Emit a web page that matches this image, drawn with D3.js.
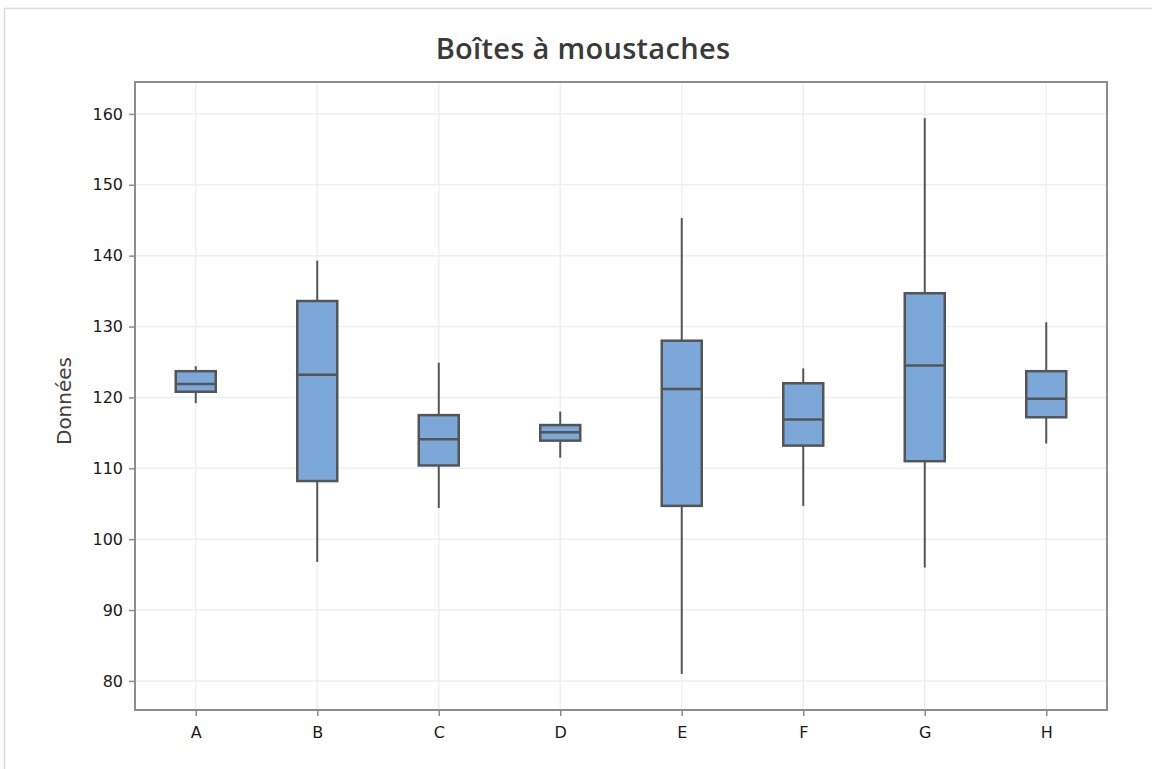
<!DOCTYPE html>
<html>
<head>
<meta charset="utf-8">
<script src="https://cdn.jsdelivr.net/npm/d3@7"></script>
<style>
  body { margin: 0; background: #fff; }
  svg { display: block; }
</style>
</head>
<body>
<svg id="chart"></svg>
<script>
// data
var groups = ["A", "B", "C", "D", "E", "F", "G", "H"];
var whiskerLow = [119.2, 96.8, 104.4, 111.5, 81.0, 104.7, 96.0, 113.5];
var q1 = [120.8, 108.2, 110.4, 113.9, 104.7, 113.2, 111.0, 117.2];
var medians = [121.9, 123.2, 114.1, 115.1, 121.2, 116.9, 124.5, 119.8];
var q3 = [123.7, 133.6, 117.5, 116.1, 128.0, 122.0, 134.7, 123.7];
var whiskerHigh = [124.4, 139.3, 124.9, 118.0, 145.3, 124.1, 159.4, 130.6];
var yTicks = [80, 90, 100, 110, 120, 130, 140, 150, 160];

var W = 1152, H = 769;
var margin = {top: 82, right: 45, bottom: 59, left: 135},
    width = W - margin.left - margin.right,
    height = H - margin.top - margin.bottom;

var boxes = groups.map(function(g, i) {
  return {name: g, lo: whiskerLow[i], q1: q1[i], med: medians[i], q3: q3[i], hi: whiskerHigh[i]};
});

var root = d3.select("#chart")
  .attr("width", W)
  .attr("height", H);

// outer frame
root.append("rect")
  .attr("x", 4.5).attr("y", 8.5)
  .attr("width", W).attr("height", H)
  .attr("fill", "none")
  .attr("stroke", "#dcdcdc")
  .attr("stroke-width", 1.5);

// title
root.append("text")
  .attr("x", 583)
  .attr("y", 59)
  .attr("text-anchor", "middle")
  .style("font-family", "'Open Sans', sans-serif")
  .style("font-weight", 600)
  .style("font-size", "29px")
  .style("letter-spacing", "0.3px")
  .style("fill", "#3a3a3a")
  .text("Boîtes à moustaches");

var svg = root.append("g")
  .attr("transform", `translate(${margin.left}, ${margin.top})`);

var x = d3.scalePoint()
  .domain(groups)
  .range([0, width])
  .padding(0.5);

var y = d3.scaleLinear()
  .domain([75.9, 164.5])
  .range([height, 0]);

// grid
svg.append("g")
  .selectAll("line")
  .data(yTicks)
  .join("line")
  .attr("x1", 0).attr("x2", width)
  .attr("y1", d => y(d)).attr("y2", d => y(d))
  .attr("stroke", "#efefef")
  .attr("stroke-width", 1.5);

svg.append("g")
  .selectAll("line")
  .data(groups)
  .join("line")
  .attr("x1", d => x(d)).attr("x2", d => x(d))
  .attr("y1", 0).attr("y2", height)
  .attr("stroke", "#efefef")
  .attr("stroke-width", 1.5);

// plot frame
svg.append("rect")
  .attr("x", 0).attr("y", 0)
  .attr("width", width).attr("height", height)
  .attr("fill", "none")
  .attr("stroke", "#8c8c8c")
  .attr("stroke-width", 2);

// axes
var yAxis = svg.append("g")
  .call(d3.axisLeft(y).tickValues(yTicks).tickSize(6).tickPadding(6));
var xAxis = svg.append("g")
  .attr("transform", `translate(0,${height})`)
  .call(d3.axisBottom(x).tickSize(6).tickPadding(11));

[yAxis, xAxis].forEach(function(a) {
  a.select(".domain").remove();
  a.selectAll("line").attr("stroke", "#8c8c8c").attr("stroke-width", 1.5);
  a.selectAll("text")
    .style("font-family", "'DejaVu Sans', sans-serif")
    .style("font-size", "16px")
    .style("fill", "#1a1a1a");
});

// y label
svg.append("text")
  .attr("transform", "rotate(-90)")
  .attr("x", -(height / 2 + 5))
  .attr("y", -64)
  .attr("text-anchor", "middle")
  .style("font-family", "'DejaVu Sans', sans-serif")
  .style("font-size", "20px")
  .style("fill", "#404040")
  .text("Données");

var half = 20;
var stroke = "#555555";

var bx = svg.append("g")
  .selectAll("g")
  .data(boxes)
  .join("g");

// whiskers
bx.append("line")
  .attr("x1", d => x(d.name)).attr("x2", d => x(d.name))
  .attr("y1", d => y(d.hi)).attr("y2", d => y(d.q3))
  .attr("stroke", stroke).attr("stroke-width", 2);
bx.append("line")
  .attr("x1", d => x(d.name)).attr("x2", d => x(d.name))
  .attr("y1", d => y(d.q1)).attr("y2", d => y(d.lo))
  .attr("stroke", stroke).attr("stroke-width", 2);

// box
bx.append("rect")
  .attr("x", d => x(d.name) - half)
  .attr("width", half * 2)
  .attr("y", d => y(d.q3))
  .attr("height", d => y(d.q1) - y(d.q3))
  .attr("fill", "#7ba7d9")
  .attr("stroke", stroke)
  .attr("stroke-width", 2.5);

// median
bx.append("line")
  .attr("x1", d => x(d.name) - half).attr("x2", d => x(d.name) + half)
  .attr("y1", d => y(d.med)).attr("y2", d => y(d.med))
  .attr("stroke", stroke).attr("stroke-width", 2.5);
</script>
</body>
</html>
